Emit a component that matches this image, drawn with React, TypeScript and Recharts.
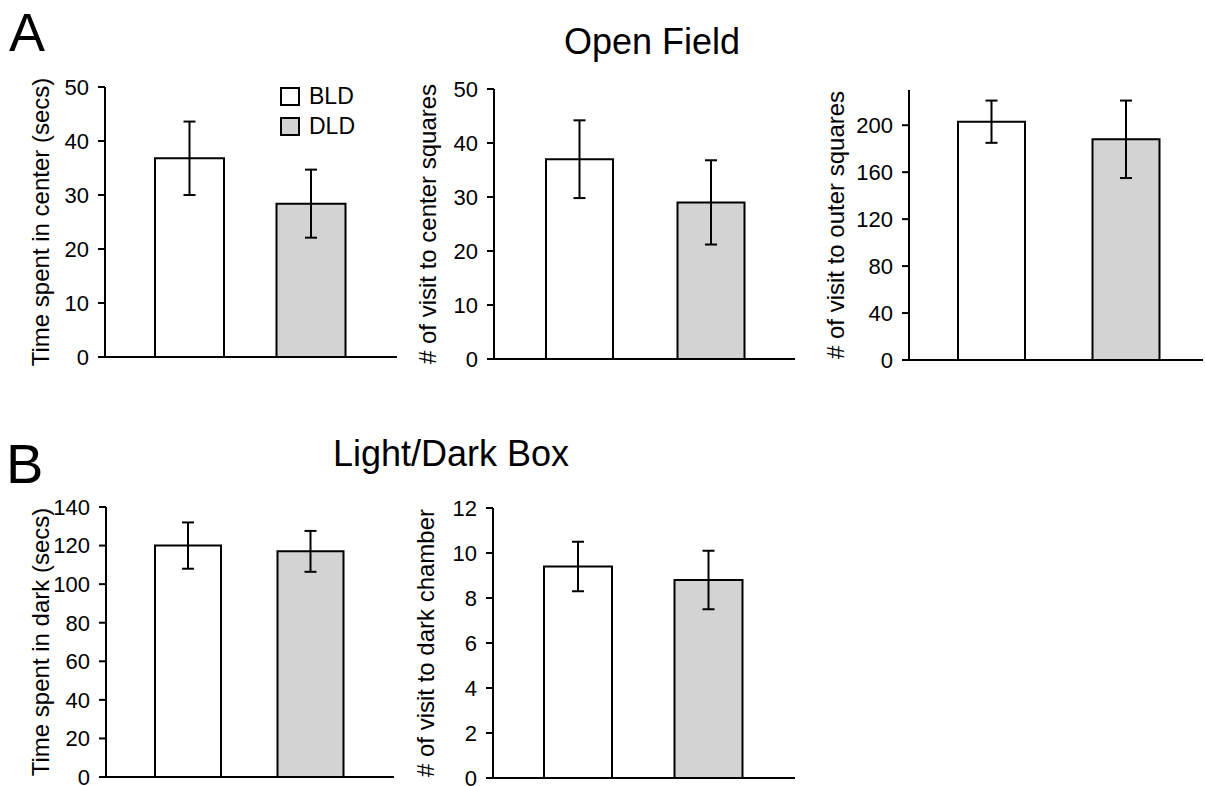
import React from "react";
import { BarChart, Bar, XAxis, YAxis, ErrorBar, Cell, Legend } from "recharts";

// groups shown in every panel
const groups = ["BLD", "DLD"];
const groupFills = ["#ffffff", "#d3d3d3"];

// Open Field
const centerTime = [36.8, 28.4];
const centerTimeSem = [6.8, 6.3];
const centerVisits = [37.0, 29.0];
const centerVisitsSem = [7.2, 7.8];
const outerVisits = [203, 188];
const outerVisitsSem = [18, 33];

// Light/Dark Box
const darkTime = [120, 117];
const darkTimeSem = [12, 10.6];
const darkVisits = [9.4, 8.8];
const darkVisitsSem = [1.1, 1.3];

// tick values
const ticks50 = [0, 10, 20, 30, 40, 50];
const ticksOuter = [0, 40, 80, 120, 160, 200];
const ticks140 = [0, 20, 40, 60, 80, 100, 120, 140];
const ticks12 = [0, 2, 4, 6, 8, 10, 12];

const toRows = (means: number[], sems: number[]) =>
  groups.map((g, i) => ({ group: g, value: means[i], sem: sems[i] }));

const FONT = '"Liberation Sans", Arial, Helvetica, sans-serif';
const AXIS_W = 90;
const TOP_PAD = 12;
const BOTTOM_PAD = 12;
const RIGHT_PAD = 2;

type Box = { left: number; right: number; top: number; bottom: number };

interface PanelProps {
  rows: { group: string; value: number; sem: number }[];
  yLabel: string;
  domain: [number, number];
  ticks: number[];
  box: Box;
  pad: { left: number; right: number };
  barSize: number;
  labelOffset: number;
  legend?: boolean;
}

const LegendBox = () => (
  <div style={{ fontFamily: FONT, color: "#000" }}>
    {groups.map((g, i) => (
      <div key={g} style={{ display: "flex", alignItems: "center", height: 30 }}>
        <span
          style={{
            display: "inline-block",
            width: 16,
            height: 15,
            border: "2px solid #000",
            background: groupFills[i],
            marginRight: 9,
          }}
        />
        <span style={{ fontSize: 23 }}>{g}</span>
      </div>
    ))}
  </div>
);

function Panel({ rows, yLabel, domain, ticks, box, pad, barSize, labelOffset, legend }: PanelProps) {
  const plotH = box.bottom - box.top;
  const width = AXIS_W + (box.right - box.left) + RIGHT_PAD;
  const height = TOP_PAD + plotH + 2 + BOTTOM_PAD;
  return (
    <div style={{ position: "absolute", left: box.left - AXIS_W, top: box.top - TOP_PAD }}>
      <BarChart
        width={width}
        height={height}
        data={rows}
        margin={{ top: TOP_PAD, right: RIGHT_PAD, bottom: BOTTOM_PAD, left: 0 }}
        barCategoryGap={0}
      >
        <XAxis
          dataKey="group"
          tick={false}
          tickLine={false}
          axisLine={{ stroke: "#000", strokeWidth: 2 }}
          height={2}
          padding={pad}
        />
        <YAxis
          width={AXIS_W}
          domain={domain}
          ticks={ticks}
          interval={0}
          allowDataOverflow
          tickSize={7}
          tickMargin={9}
          axisLine={{ stroke: "#000", strokeWidth: 2 }}
          tickLine={{ stroke: "#000", strokeWidth: 2 }}
          tick={{ fill: "#000", fontSize: 22, fontFamily: FONT }}
          label={{
            value: yLabel,
            angle: -90,
            position: "insideLeft",
            offset: labelOffset,
            style: { textAnchor: "middle", fontSize: 24, fill: "#000", fontFamily: FONT },
          }}
        />
        <Bar dataKey="value" barSize={barSize} stroke="#000" strokeWidth={2} isAnimationActive={false}>
          {rows.map((r, i) => (
            <Cell key={r.group} fill={groupFills[i]} />
          ))}
          <ErrorBar dataKey="sem" width={6} stroke="#000" strokeWidth={2} direction="y" />
        </Bar>
        {legend && (
          <Legend
            layout="vertical"
            align="center"
            verticalAlign="middle"
            wrapperStyle={{ left: 265, top: 6, width: "auto" }}
            content={() => <LegendBox />}
          />
        )}
      </BarChart>
    </div>
  );
}

export default function App() {
  return (
    <div
      style={{
        position: "absolute",
        left: 0,
        top: 0,
        width: 1205,
        height: 786,
        overflow: "hidden",
        background: "#fff",
        fontFamily: FONT,
      }}
    >
      <svg width={1205} height={786} style={{ position: "absolute", left: 0, top: 0 }}>
        <text x={9} y={51} fontSize={54} fontFamily={FONT} fill="#000">A</text>
        <text x={6} y={483} fontSize={56} fontFamily={FONT} fill="#000">B</text>
        <text x={652} y={54} fontSize={36} fontFamily={FONT} fill="#000" textAnchor="middle">Open Field</text>
        <text x={451} y={466} fontSize={36} fontFamily={FONT} fill="#000" textAnchor="middle">Light/Dark Box</text>
      </svg>

      <Panel
        rows={toRows(centerTime, centerTimeSem)}
        yLabel="Time spent in center (secs)"
        domain={[0, 50]}
        ticks={ticks50}
        box={{ left: 105, right: 397, top: 87, bottom: 357 }}
        pad={{ left: 24, right: 25 }}
        barSize={69}
        labelOffset={25}
        legend
      />
      <Panel
        rows={toRows(centerVisits, centerVisitsSem)}
        yLabel="# of visit to center squares"
        domain={[0, 50]}
        ticks={ticks50}
        box={{ left: 494, right: 795, top: 89, bottom: 359 }}
        pad={{ left: 20, right: 18 }}
        barSize={67}
        labelOffset={23}
      />
      <Panel
        rows={toRows(outerVisits, outerVisitsSem)}
        yLabel="# of visit to outer squares"
        domain={[0, 230]}
        ticks={ticksOuter}
        box={{ left: 909, right: 1203, top: 90, bottom: 360 }}
        pad={{ left: 15, right: 10 }}
        barSize={67}
        labelOffset={16}
      />
      <Panel
        rows={toRows(darkTime, darkTimeSem)}
        yLabel="Time spent in dark (secs)"
        domain={[0, 140]}
        ticks={ticks140}
        box={{ left: 106, right: 394, top: 507, bottom: 777 }}
        pad={{ left: 21, right: 22 }}
        barSize={66}
        labelOffset={24}
      />
      <Panel
        rows={toRows(darkVisits, darkVisitsSem)}
        yLabel="# of visit to dark chamber"
        domain={[0, 12]}
        ticks={ticks12}
        box={{ left: 493, right: 795, top: 508, bottom: 778 }}
        pad={{ left: 20, right: 21 }}
        barSize={68}
        labelOffset={22}
      />
    </div>
  );
}
